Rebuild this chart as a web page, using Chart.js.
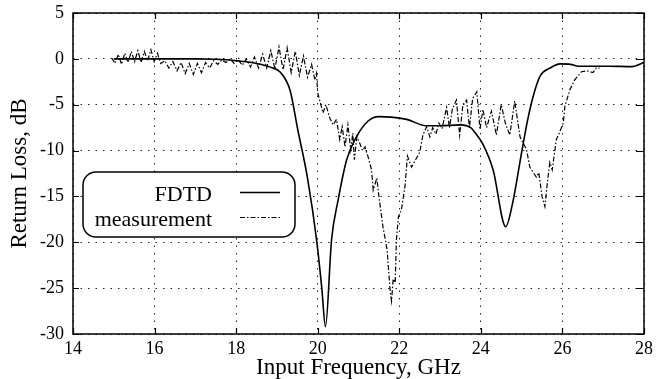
<!DOCTYPE html>
<html>
<head>
<meta charset="utf-8">
<script src="https://cdn.jsdelivr.net/npm/chart.js@4.4.1/dist/chart.umd.min.js"></script>
<style>
  html, body { margin: 0; padding: 0; background: #fff; }
  #wrap { width: 660px; height: 379px; }
</style>
</head>
<body>
<div id="wrap"><canvas id="lossChart" width="660" height="379"></canvas></div>
<script>
// Simulated return loss (FDTD), GHz / dB
const fdtdFreq = [15.0, 16.0, 17.0, 17.5, 18.0, 18.5, 18.9, 19.07, 19.32, 19.51, 19.75, 19.98, 20.1, 20.19,
    20.34, 20.5, 20.71, 20.95, 21.23, 21.5, 21.8, 22.18, 22.67, 23.0, 23.5, 23.75, 23.9, 24.05, 24.3, 24.61,
    24.78, 25.0, 25.15, 25.3, 25.45, 25.7, 25.94, 26.2, 26.4, 27.16, 27.7, 27.94, 28.0];
const fdtdLoss = [0, 0, 0, -0.05, -0.2, -0.5, -1.0, -1.4, -3.4, -7.7, -13, -20, -25, -29.2,
    -19.7, -15.4, -11, -8.5, -6.8, -6.3, -6.35, -6.6, -7.3, -7.3, -7.2, -7.5, -8.3, -9.3, -12.1, -18.3,
    -15.7, -10.2, -6.6, -3.8, -1.9, -1.0, -0.55, -0.6, -0.8, -0.8, -0.85, -0.5, -0.4];

// Measured return loss, GHz / dB
const measFreq = [14.95, 15.03, 15.11, 15.19, 15.27, 15.35, 15.43, 15.51, 15.59, 15.67, 15.75, 15.83, 15.91, 15.99,
    16.07, 16.15, 16.25, 16.35, 16.45, 16.55, 16.65, 16.75, 16.85, 16.95, 17.05, 17.15, 17.25, 17.35, 17.45,
    17.55, 17.65, 17.75, 17.85, 17.95, 18.05, 18.15, 18.25, 18.35, 18.45, 18.55, 18.65, 18.75, 18.85, 18.95,
    19.05, 19.15, 19.25, 19.35, 19.45, 19.55, 19.65, 19.75, 19.85, 19.93, 19.97, 20.0, 20.13, 20.2, 20.3,
    20.38, 20.46, 20.54, 20.6, 20.67, 20.74, 20.81, 20.86, 20.9, 20.96, 21.03, 21.1, 21.16, 21.23, 21.32,
    21.36, 21.45, 21.5, 21.6, 21.7, 21.78, 21.81, 21.85, 21.9, 21.93, 21.98, 22.05, 22.14, 22.2, 22.3, 22.4,
    22.5, 22.58, 22.67, 22.75, 22.82, 22.9, 22.97, 23.05, 23.16, 23.23, 23.3, 23.4, 23.48, 23.56, 23.65,
    23.72, 23.8, 23.9, 23.98, 24.05, 24.14, 24.26, 24.38, 24.5, 24.6, 24.71, 24.83, 24.96, 25.04, 25.12,
    25.2, 25.3, 25.36, 25.42, 25.5, 25.57, 25.62, 25.69, 25.75, 25.85, 25.92, 26.02, 26.06, 26.18, 26.3,
    26.47, 26.6, 26.75, 26.83, 26.91];
const measLoss = [0.1, -0.5, 0.5, -0.6, 0.6, -0.4, 0.8, -0.3, 0.9, -0.4, 0.8, -0.2, 1.0, -0.3,
    0.6, -0.5, -0.2, -1.0, -0.3, -1.3, -0.4, -1.6, -0.5, -1.7, -0.5, -1.5, -0.4, -1.0, -0.2,
    -0.6, -0.1, -0.4, 0.0, -0.5, -0.1, -0.7, 0.0, -0.9, 0.2, -1.0, 0.5, -1.0, 0.9, -1.1,
    1.3, -1.2, 1.2, -1.5, 0.8, -1.8, 0.3, -2.0, -0.6, -2.3, -1.6, -3.7, -5.9, -5.0, -6.5,
    -7.2, -6.6, -8.8, -7.4, -9.6, -7.2, -9.9, -8.1, -11, -8.5, -9.2, -10.0, -9.6, -10.6, -12.1,
    -14.3, -13.0, -15.0, -18.3, -20.8, -25.5, -26.4, -24.0, -24.4, -19.7, -17.2, -16.5, -13.9, -10.6, -11.8, -11.0,
    -10.2, -8.3, -7.4, -8.5, -7.5, -8.2, -7.0, -7.6, -5.3, -7.5, -5.5, -4.5, -8.3, -5.0, -4.5,
    -7.5, -4.3, -3.6, -7.7, -5.5, -7.5, -5.7, -8.3, -5.0, -7.0, -8.3, -4.6, -8.5, -9.2, -9.9,
    -11.8, -12.5, -12.9, -12.4, -15.0, -16.1, -13.9, -11.3, -12.1, -8.8, -8.1, -7.0, -5.2, -3.4, -2.3,
    -1.4, -1.3, -1.5, -1.0, -1.0];

const xTicks = [14, 16, 18, 20, 22, 24, 26, 28];
const yTicks = [5, 0, -5, -10, -15, -20, -25, -30];

const FONT = '"Liberation Serif", "DejaVu Serif", serif';

function toPoints(xs, ys) {
    return xs.map((x, i) => ({ x: x, y: ys[i] }));
}

// Frame, inward tick marks and the rounded legend box
const framePlugin = {
    id: 'frame',
    afterDatasetsDraw(chart) {
        const ctx = chart.ctx;
        const a = chart.chartArea;
        const xs = chart.scales.x;
        const ys = chart.scales.y;
        ctx.save();
        ctx.strokeStyle = '#000';
        ctx.lineWidth = 1.5;
        ctx.strokeRect(a.left, a.top, a.right - a.left, a.bottom - a.top);
        ctx.lineWidth = 1.2;
        ctx.beginPath();
        xTicks.forEach((t) => {
            const px = Math.round(xs.getPixelForValue(t)) + 0.5;
            ctx.moveTo(px, a.bottom); ctx.lineTo(px, a.bottom - 6);
            ctx.moveTo(px, a.top); ctx.lineTo(px, a.top + 6);
        });
        yTicks.forEach((t) => {
            const py = Math.round(ys.getPixelForValue(t)) + 0.5;
            ctx.moveTo(a.left, py); ctx.lineTo(a.left + 6, py);
            ctx.moveTo(a.right, py); ctx.lineTo(a.right - 8, py);
        });
        ctx.stroke();

        // legend
        const bx = 83, by = 172, bw = 212, bh = 65, r = 13;
        ctx.beginPath();
        ctx.roundRect(bx, by, bw, bh, r);
        ctx.fillStyle = '#fff';
        ctx.fill();
        ctx.lineWidth = 1.5;
        ctx.stroke();
        ctx.fillStyle = '#000';
        ctx.font = '22px ' + FONT;
        ctx.textAlign = 'right';
        ctx.textBaseline = 'alphabetic';
        const rows = [{ y: 201, ds: chart.data.datasets[0] }, { y: 226, ds: chart.data.datasets[1] }];
        rows.forEach((row) => {
            ctx.fillText(row.ds.label, 212, row.y);
            ctx.beginPath();
            ctx.setLineDash(row.ds.borderDash || []);
            ctx.lineWidth = row.ds.borderWidth;
            ctx.moveTo(240, row.y - 8.5);
            ctx.lineTo(280, row.y - 8.5);
            ctx.stroke();
        });
        ctx.restore();
    }
};

new Chart(document.getElementById('lossChart').getContext('2d'), {
    type: 'scatter',
    data: {
        datasets: [{
            label: 'FDTD',
            data: toPoints(fdtdFreq, fdtdLoss),
            showLine: true,
            borderColor: '#000',
            borderWidth: 1.6,
            cubicInterpolationMode: 'monotone',
            pointRadius: 0,
        }, {
            label: 'measurement',
            data: toPoints(measFreq, measLoss),
            showLine: true,
            borderColor: '#000',
            borderWidth: 1.2,
            borderDash: [5, 2, 1.5, 2],
            tension: 0,
            pointRadius: 0,
        }],
    },
    options: {
        responsive: false,
        animation: false,
        events: [],
        layout: { autoPadding: false, padding: { top: 13, right: 16, bottom: 0, left: 0 } },
        plugins: { legend: { display: false }, tooltip: { enabled: false } },
        scales: {
            x: {
                type: 'linear',
                min: 14,
                max: 28,
                afterFit: (s) => { s.height = 45; },
                afterBuildTicks: (s) => { s.ticks = xTicks.map((v) => ({ value: v })); },
                ticks: { color: '#000', padding: 4, font: { family: FONT, size: 18 } },
                grid: { color: '#222', lineWidth: 1, drawTicks: false },
                border: { display: false, dash: [1.5, 6] },
                title: { display: true, text: 'Input Frequency, GHz', color: '#000', padding: { top: 0, bottom: 0 },
                    font: { family: FONT, size: 23, lineHeight: 1.0 } },
            },
            y: {
                type: 'linear',
                min: -30,
                max: 5,
                afterFit: (s) => { s.width = 73; },
                afterBuildTicks: (s) => { s.ticks = yTicks.map((v) => ({ value: v })); },
                ticks: { color: '#000', padding: 9, font: { family: FONT, size: 18, lineHeight: 0.3 } },
                grid: { color: '#222', lineWidth: 1, drawTicks: false },
                border: { display: false, dash: [1.5, 6] },
                title: { display: true, text: 'Return Loss, dB', color: '#000', padding: { top: 8, bottom: 0 },
                    font: { family: FONT, size: 23, lineHeight: 1.0 } },
            },
        },
    },
    plugins: [framePlugin],
});
</script>
</body>
</html>
